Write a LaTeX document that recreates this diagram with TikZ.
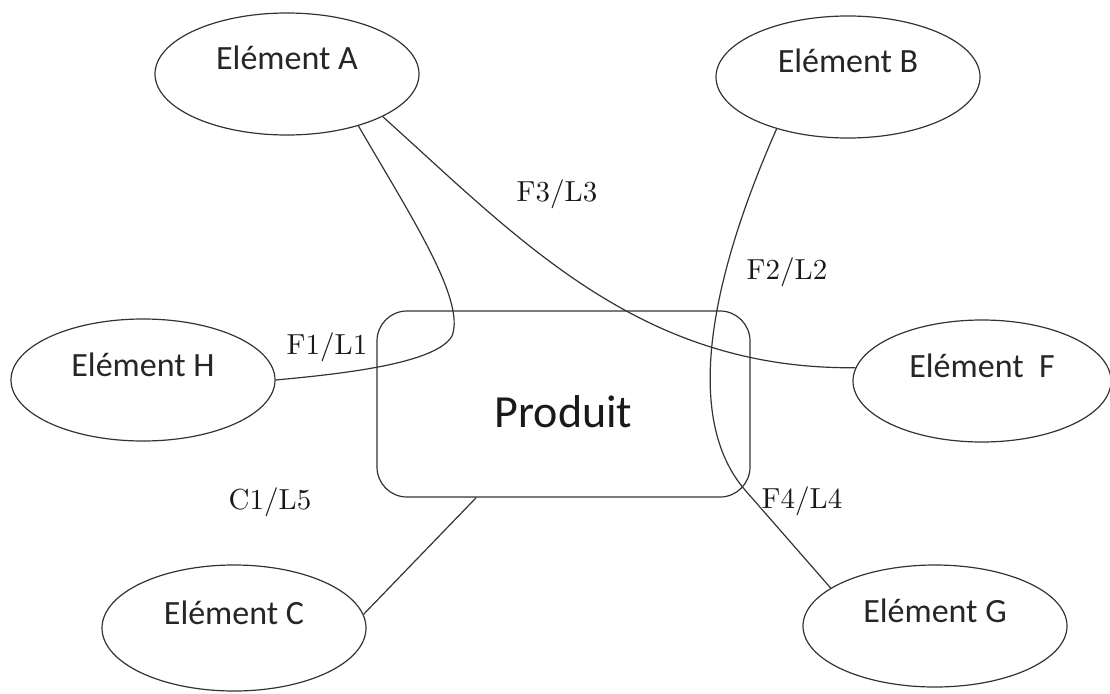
\documentclass[tikz,border=0pt]{standalone}
\usepackage{fontspec}
\newfontfamily\elemfont{Carlito}
\newfontfamily\lblfont{lmroman10-regular}[Extension=.otf]
\usetikzlibrary{shapes.geometric}
\begin{document}
\begin{tikzpicture}[x=1pt,y=-1pt,
  elem/.style={draw=black!80, line width=1.2pt, ellipse,
    minimum width=264pt, minimum height=122pt, inner sep=0pt,
    font=\elemfont\fontsize{34}{40}\selectfont,
    text height=22pt, text depth=30pt, text=black!85},
  prod/.style={draw=black!80, line width=1.2pt, rectangle,
    rounded corners=30pt, minimum width=373pt, minimum height=186pt,
    inner sep=0pt, font=\elemfont\fontsize{46}{52}\selectfont,
    text height=46pt, text depth=0pt, text=black!90},
  lbl/.style={font=\lblfont\fontsize{29}{34}\selectfont, inner sep=0pt,
    text height=20pt, text depth=0pt, text=black!90},
  link/.style={draw=black!80, line width=1.2pt}]
\useasboundingbox (0,0) rectangle (1110,693);

% central product
\node[prod] (P) at (563.5,404) {Produit};

% surrounding elements
\node[elem] (A) at (287,74)  {Elément A};
\node[elem] (B) at (848,77)  {Elément B};
\node[elem] (H) at (143,380) {Elément H};
\node[elem, minimum width=258pt] (F) at (982,381) {Elément~ F};
\node[elem, minimum height=126pt] (C) at (234,628) {Elément C};
\node[elem] (G) at (935,626) {Elément G};

% functions and constraints
\draw[link] (A.-36) .. controls (410,215) and (466,300) .. (452,336)
  .. controls (436,364) and (340,374) .. (H.east);
\draw[link] (A.-24) .. controls (520,240) and (640,370) .. (F.174);
\draw[link] (B.-144) .. controls (710,280) and (683,418) .. (745,490)
  -- (G.160);
\draw[link] (C.6.5) -- (P.-133);

% labels
\node[lbl] (l3) at (557,191) {F3/L3};
\node[lbl] (l2) at (787,269) {F2/L2};
\node[lbl] (l1) at (327,344) {F1/L1};
\node[lbl] (l5) at (270,499) {C1/L5};
\node[lbl] (l4) at (802,498) {F4/L4};
\end{tikzpicture}
\end{document}
